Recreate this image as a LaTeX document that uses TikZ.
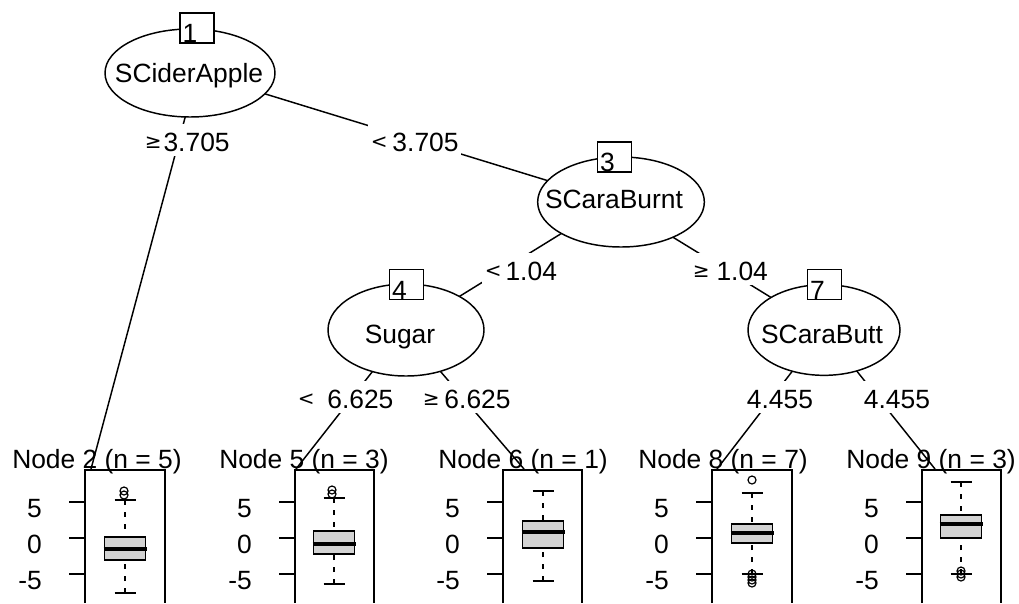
\documentclass[tikz,border=0pt]{standalone}
\usepackage{fontspec}
\setmainfont{Liberation Sans}
\newfontfamily\symfont{DejaVu Sans}
\usetikzlibrary{shapes.geometric}
\definecolor{boxgray}{RGB}{211,211,211}
\newcommand\symb[1]{\raisebox{1.6pt}{\symfont\fontsize{15}{15}\selectfont #1}}
\tikzset{
  ln/.style={line width=1.1pt},
  splitnode/.style={ellipse, draw, fill=white, line width=1.1pt, inner sep=0pt},
  splittext/.style={anchor=base, inner sep=0pt},
  numbox/.style={draw, fill=white, line width=1.1pt, minimum width=25.5pt, minimum height=22.5pt, inner sep=0pt},
  numtxt/.style={anchor=base west, inner sep=0pt},
  elab/.style={fill=white, anchor=base west, inner xsep=2pt, inner ysep=0pt, text height=20pt, text depth=4pt},
  termlab/.style={anchor=base, inner sep=0pt},
  ticklab/.style={anchor=base east, inner sep=0pt},
  whisk/.style={line width=1.1pt, dash pattern=on 3.4pt off 5.6pt},
  capl/.style={line width=1.1pt},
  boxst/.style={line width=1.1pt, fill=boxgray},
  medl/.style={line width=2.8pt},
  outl/.style={line width=0.9pt}
}
\newcommand\panelframe[2]{%
  \draw[ln] (#1,603) -- (#1,470) -- (#1+#2,470) -- (#1+#2,603);
  \foreach \v/\yy/\k in {5/502/a,0/538/b,-5/574/c}{%
    \draw[ln] (#1-16,\yy) -- (#1,\yy);
    \node[ticklab] (tk#1\k) at (#1-43,\yy+15) {\v};
  }%
}
\newcommand\bxp[6]{%
  \draw[whisk] (#1,#2) -- (#1,#3);
  \draw[whisk] (#1,#6) -- (#1,#5);
  \draw[capl] (#1-10.5,#2) -- (#1+10.5,#2);
  \draw[capl] (#1-10.5,#6) -- (#1+10.5,#6);
  \draw[boxst] (#1-20.5,#3) rectangle (#1+20.5,#5);
  \draw[medl] (#1-21.5,#4) -- (#1+21.5,#4);
}
\begin{document}
\begin{tikzpicture}[x=0.75pt,y=-0.75pt,font=\fontsize{19.8}{24}\selectfont]
\useasboundingbox (0,0) rectangle (1019,603);

% split centres and terminal tops
\coordinate (c1) at (197,73);
\coordinate (c3) at (614,201);
\coordinate (c4) at (405,330);
\coordinate (c7) at (824,330);
\coordinate (t2) at (91,469);
\coordinate (t5) at (296,469);
\coordinate (t6) at (524,469);
\coordinate (t8) at (717,469);
\coordinate (t9) at (935,469);

% edges
\draw[ln] (c1) -- (t2);
\draw[ln] (c1) -- (c3);
\draw[ln] (c3) -- (c4);
\draw[ln] (c3) -- (c7);
\draw[ln] (c4) -- (t5);
\draw[ln] (c4) -- (t6);
\draw[ln] (c7) -- (t8);
\draw[ln] (c7) -- (t9);

% edge labels
\node[elab] (e12) at (142,151) {\symb{≥}\hspace{1.4pt}3.705};
\node[elab] (e13) at (368,151) {\symb{<}\hspace{3.6pt}3.705};
\node[elab] (e34) at (482,280) {\symb{<}\hspace{2.9pt}1.04};
\node[elab] (e37) at (690,280) {\symb{≥}\hspace{5.1pt}1.04};
\node[elab] (e45) at (295,408) {\symb{<}\hspace{9.5pt}6.625};
\node[elab] (e46) at (420,408) {\symb{≥}\hspace{3.6pt}6.625};
\node[elab] (e78) at (744,408) {4.455};
\node[elab] (e79) at (861,408) {4.455};

% split nodes
\node[splitnode, minimum width=127.5pt, minimum height=66pt] (n1) at (190,73) {};
\node[splitnode, minimum width=125pt, minimum height=67.5pt] (n3) at (621,202) {};
\node[splitnode, minimum width=117pt, minimum height=69pt] (n4) at (406,330) {};
\node[splitnode, minimum width=114pt, minimum height=68pt] (n7) at (824,330) {};
\node[splittext] (n1t) at (189,82) {SCiderApple};
\node[splittext] (n3t) at (614,208) {SCaraBurnt};
\node[splittext] (n4t) at (400,343) {Sugar};
\node[splittext] (n7t) at (822,343) {SCaraButt};

% id boxes
\node[numbox] (b1) at (197,28) {};
\node[numbox] (b3) at (614.5,157) {};
\node[numbox] (b4) at (406.5,284.5) {};
\node[numbox] (b7) at (824.5,284.5) {};
\node[numtxt] (b1t) at ([xshift=2.25pt,yshift=0.75pt]b1.south west) {1};
\node[numtxt] (b3t) at ([xshift=2.25pt,yshift=0.75pt]b3.south west) {3};
\node[numtxt] (b4t) at ([xshift=2.25pt,yshift=0.75pt]b4.south west) {4};
\node[numtxt] (b7t) at ([xshift=2.25pt,yshift=0.75pt]b7.south west) {7};

% terminal panels
\panelframe{85}{80}
\panelframe{295}{79}
\panelframe{503}{79}
\panelframe{712}{80}
\panelframe{922}{79}

\bxp{125}{500}{537}{549}{560}{593}
\draw[outl] (124,491) circle[radius=4];
\draw[outl] (124,495) circle[radius=4];

\bxp{334}{498}{531}{544}{554}{584}
\draw[outl] (332,490) circle[radius=4];
\draw[outl] (332,494) circle[radius=4];

\bxp{543}{491}{521}{532}{548}{581}

\bxp{752}{493}{524}{533}{543}{574}
\draw[outl] (752,480) circle[radius=4];
\foreach \yy in {574,577,580,583} \draw[outl] (752,\yy) circle[radius=4];

\bxp{961}{482}{515}{524}{538}{574}
\foreach \yy in {571,574,577} \draw[outl] (961,\yy) circle[radius=4];

% terminal labels
\node[termlab] (l2) at (97,468) {Node 2 (n = 5)};
\node[termlab] (l5) at (304,468) {Node 5 (n = 3)};
\node[termlab] (l6) at (523,468) {Node 6 (n = 1)};
\node[termlab] (l8) at (723,468) {Node 8 (n = 7)};
\node[termlab] (l9) at (931,468) {Node 9 (n = 3)};
\end{tikzpicture}
\end{document}
